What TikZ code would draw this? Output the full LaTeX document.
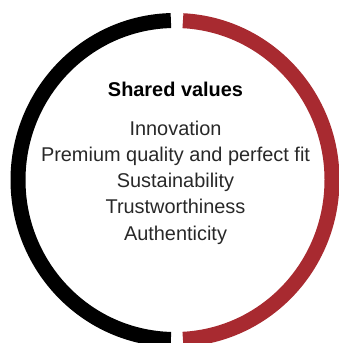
\documentclass[tikz,border=0pt]{standalone}
\usepackage{fontspec}
\setmainfont{Liberation Sans}
\usepackage{tikz}
\usetikzlibrary{positioning, calc}

\definecolor{ringred}{RGB}{168,42,48}
\definecolor{textgray}{RGB}{40,40,40}

\tikzset{
  ring/.style={line width=0.45cm},
  heading/.style={font=\fontsize{17}{22}\selectfont\bfseries, text=black},
  valuelist/.style={font=\fontsize{17}{22.2}\selectfont, text=textgray, align=center}
}

\begin{document}
\begin{tikzpicture}[x=0.03cm, y=-0.03cm]
\useasboundingbox (0,0) rectangle (338,343);

% Ring, split in two halves (runs past the lower edge)
\coordinate (ctr) at (175,180);
\draw[ring, black] (ctr) ++(91.5:157 and 159.5)
    arc[start angle=91.5, end angle=268.5, x radius=157, y radius=159.5];
\draw[ring, ringred] (ctr) ++(-87.1:157 and 159.5)
    arc[start angle=-87.1, end angle=87.1, x radius=157, y radius=159.5];

% Heading and values (base = last line)
\node[heading, anchor=base] (title) at (175.5,97) {Shared values};
\node[valuelist, anchor=base] (values) at (175.5,240)
    {Innovation\\Premium quality and perfect fit\\Sustainability\\Trustworthiness\\Authenticity};
\end{tikzpicture}
\end{document}
